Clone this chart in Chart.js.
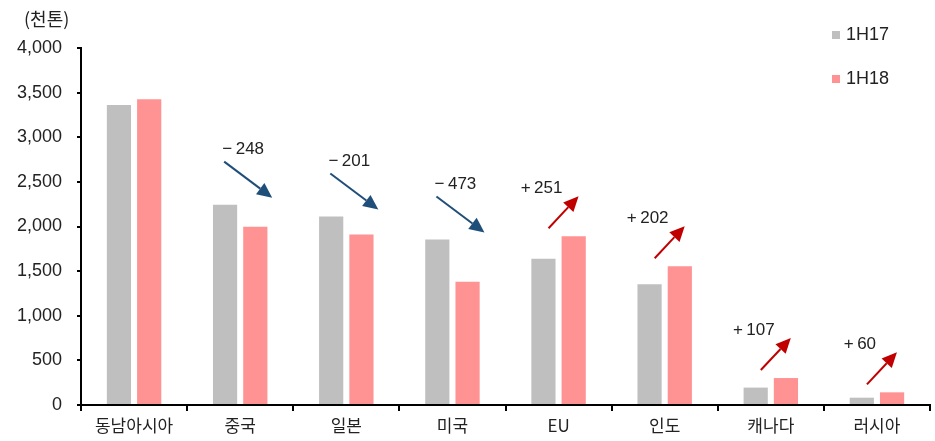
<!DOCTYPE html>
<html>
<head>
<meta charset="utf-8">
<script src="https://cdn.jsdelivr.net/npm/chart.js@4.4.0/dist/chart.umd.min.js"></script>
<style>
  html, body { margin: 0; padding: 0; background: #fff; }
</style>
</head>
<body>
<canvas id="chart" width="935" height="441"></canvas>
<script>
// data
const categories = ['동남아시아', '중국', '일본', '미국', 'EU', '인도', '캐나다', '러시아'];
const seriesNames = ['1H17', '1H18'];
const h17 = [3360, 2245, 2112, 1855, 1640, 1353, 195, 82];
const h18 = [3425, 1997, 1911, 1382, 1891, 1555, 302, 142];
const changes = [null, -248, -201, -473, 251, 202, 107, 60];
const unitLabel = '(천톤)';

const NUM_FONT = '"Liberation Sans", Arial, sans-serif';
const KR_FONT = '"Noto Sans CJK KR", sans-serif';

function drawArrow(ctx, x0, y0, x1, y1, color) {
  const ang = Math.atan2(y1 - y0, x1 - x0);
  const len = 15, half = 7;
  const bx = x1 - len * Math.cos(ang), by = y1 - len * Math.sin(ang);
  ctx.strokeStyle = color;
  ctx.fillStyle = color;
  ctx.lineWidth = 2;
  ctx.beginPath();
  ctx.moveTo(x0, y0);
  ctx.lineTo(bx, by);
  ctx.stroke();
  ctx.beginPath();
  ctx.moveTo(x1, y1);
  ctx.lineTo(bx + half * Math.sin(ang), by - half * Math.cos(ang));
  ctx.lineTo(bx - half * Math.sin(ang), by + half * Math.cos(ang));
  ctx.closePath();
  ctx.fill();
}

const extras = {
  id: 'extras',
  afterDraw(chart) {
    const { ctx, scales: { x, y } } = chart;
    ctx.save();
    ctx.textBaseline = 'middle';

    // unit label
    ctx.fillStyle = '#222';
    ctx.textAlign = 'left';
    ctx.font = '18px ' + KR_FONT;
    ctx.fillText(unitLabel, 24, 19);

    // legend (top right, stacked)
    chart.data.datasets.forEach((ds, i) => {
      const ly = 35 + i * 44;
      ctx.fillStyle = ds.backgroundColor;
      ctx.fillRect(832, ly - 4, 8, 8);
      ctx.fillStyle = '#222';
      ctx.font = '18px ' + NUM_FONT;
      ctx.fillText(ds.label, 846, ly);
    });

    // change arrows
    changes.forEach((d, i) => {
      if (d == null) return;
      const cx = x.getPixelForValue(i);
      const top = y.getPixelForValue(Math.max(h17[i], h18[i]));
      const txt = (d < 0 ? '\u2212\u2009' : '+\u2009') + Math.abs(d);
      ctx.font = '17px ' + NUM_FONT;
      ctx.fillStyle = '#222';
      ctx.textAlign = 'center';
      if (d < 0) {
        const ly = top - 55;
        ctx.fillText(txt, cx + 3, ly);
        const sx = cx - 16, sy = ly + 12;
        drawArrow(ctx, sx, sy, sx + 48, sy + 36, '#1F4E79');
      } else {
        const ly = top - 48;
        ctx.fillText(txt, cx - 17, ly);
        const sx = cx - 10, sy = ly + 40;
        drawArrow(ctx, sx, sy, sx + 30, sy - 32, '#C00000');
      }
    });
    ctx.restore();
  }
};

new Chart(document.getElementById('chart'), {
  type: 'bar',
  data: {
    labels: categories,
    datasets: [
      { label: seriesNames[0], data: h17, backgroundColor: '#BFBFBF' },
      { label: seriesNames[1], data: h18, backgroundColor: '#FF9292' }
    ]
  },
  options: {
    responsive: false,
    animation: false,
    devicePixelRatio: 1,
    categoryPercentage: 0.57,
    barPercentage: 0.8,
    layout: { padding: { top: 48, right: 5, left: 0, bottom: 0 } },
    plugins: {
      legend: { display: false },
      tooltip: { enabled: false }
    },
    scales: {
      x: {
        afterFit(scale) { scale.height = 36; },
        grid: {
          offset: true,
          drawOnChartArea: false,
          drawTicks: true,
          tickLength: 6,
          color: '#000',
          lineWidth: 2
        },
        border: { display: true, color: '#000', width: 2 },
        ticks: {
          color: '#222',
          padding: 4,
          font: { family: KR_FONT, size: 17 }
        }
      },
      y: {
        min: 0,
        max: 4000,
        afterFit(scale) { scale.width = 81; },
        grid: {
          drawOnChartArea: false,
          drawTicks: true,
          tickLength: 4,
          color: '#000',
          lineWidth: 2
        },
        border: { display: true, color: '#000', width: 2 },
        ticks: {
          stepSize: 500,
          padding: 15,
          color: '#222',
          font: { family: NUM_FONT, size: 18 },
          callback: v => v.toLocaleString('en-US')
        }
      }
    }
  },
  plugins: [extras]
});
</script>
</body>
</html>
